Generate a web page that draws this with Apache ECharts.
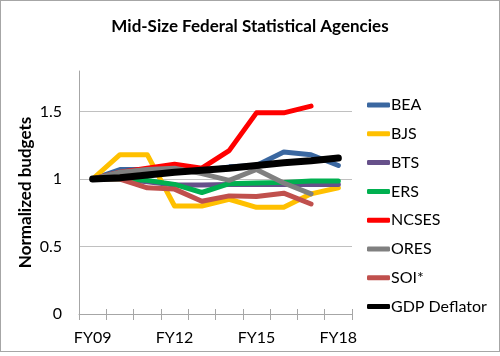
<!DOCTYPE html>
<html>
<head>
<meta charset="utf-8">
<script src="https://cdn.jsdelivr.net/npm/echarts@6/dist/echarts.min.js"></script>
<style>
html,body{margin:0;padding:0;background:#fff;}
#wrap{position:relative;width:500px;height:356px;}
#chart{width:500px;height:356px;}
#frame{position:absolute;left:0;top:0;width:500px;height:352px;box-sizing:border-box;border:1px solid #a6a6a6;pointer-events:none;}
</style>
</head>
<body>
<div id="wrap"><div id="chart"></div><div id="frame"></div></div>
<script>
const categories = ['FY09','FY10','FY11','FY12','FY13','FY14','FY15','FY16','FY17','FY18'];
const BEA   = [1.00, 1.07, 1.07, 1.06, 1.06, 1.09, 1.10, 1.20, 1.18, 1.10];
const BJS   = [1.00, 1.18, 1.18, 0.80, 0.80, 0.85, 0.79, 0.79, 0.89, 0.935];
const BTS   = [1.00, 1.00, 0.98, 0.955, 0.955, 0.96, 0.96, 0.96, 0.96, 0.96];
const ERS   = [1.00, 1.00, 0.99, 0.96, 0.90, 0.965, 0.97, 0.975, 0.985, 0.985];
const NCSES = [1.00, 1.05, 1.08, 1.11, 1.08, 1.21, 1.49, 1.49, 1.54];
const ORES  = [1.00, 1.05, 1.07, 1.08, 1.04, 0.99, 1.07, 0.97, 0.89];
const SOI   = [1.00, 1.00, 0.935, 0.925, 0.835, 0.875, 0.87, 0.895, 0.815];
const GDP   = [1.00, 1.01, 1.03, 1.05, 1.065, 1.08, 1.10, 1.12, 1.135, 1.155];
const yTicks = [0, 0.5, 1, 1.5];

const seriesDefs = [
  ['BEA', BEA, '#3a67a0', 5],
  ['BJS', BJS, '#ffc000', 5],
  ['BTS', BTS, '#66508a', 5],
  ['ERS', ERS, '#00b050', 5],
  ['NCSES', NCSES, '#ff0000', 5],
  ['ORES', ORES, '#808080', 5],
  ['SOI*', SOI, '#c0504d', 5],
  ['GDP Deflator', GDP, '#000000', 7]
];
const FONT = 'Lato';
const chart = echarts.init(document.getElementById('chart'), null, {renderer:'canvas'});
chart.setOption({
  animation:false,
  backgroundColor:'#ffffff',
  title:{text:'Mid-Size Federal Statistical Agencies', left:'center', top:13,
    textStyle:{fontFamily:FONT, fontWeight:'bold', fontSize:17, color:'#000'}},
  legend:{orient:'vertical', left:367, top:97, padding:0, itemWidth:23, itemHeight:5, itemGap:12.8,
    icon:'roundRect',
    data:seriesDefs.map(d=>d[0]),
    textStyle:{fontFamily:FONT, fontSize:16, color:'#000', padding:[0,0,0,-4]}},
  grid:{left:79, right:148, top:71, bottom:42, containLabel:false},
  xAxis:[{
    type:'category', data:categories, boundaryGap:true,
    axisLine:{lineStyle:{color:'#a6a6a6', width:1}},
    axisTick:{show:true, interval:0, length:6, lineStyle:{color:'#a6a6a6'}},
    axisLabel:{interval:2, fontFamily:FONT, fontSize:16, color:'#000', margin:16}
  },{
    type:'category', data:categories, boundaryGap:true, position:'bottom',
    axisLine:{show:false},
    axisTick:{show:true, inside:true, interval:0, length:5, lineStyle:{color:'#a6a6a6'}},
    axisLabel:{show:false}
  }],
  yAxis:{
    type:'value', min:0, max:1.8, interval:0.5,
    name:'Normalized budgets', nameLocation:'middle', nameGap:45, nameRotate:90,
    nameMoveOverlap:false,
    nameTextStyle:{fontFamily:FONT, fontWeight:'bold', fontSize:17, color:'#000'},
    axisLine:{show:true, lineStyle:{color:'#a6a6a6'}},
    axisTick:{show:false},
    axisLabel:{showMaxLabel:false, fontFamily:FONT, fontSize:16, color:'#000', margin:17,
      formatter:v=> yTicks.includes(v) ? String(v) : ''},
    splitLine:{show:true, lineStyle:{color:['#c0c0c0','#c0c0c0','#c0c0c0','#c0c0c0','rgba(0,0,0,0)']}}
  },
  series:seriesDefs.map(d=>({
    name:d[0], type:'line', data:d[1], showSymbol:false, symbol:'none',
    xAxisIndex:0,
    lineStyle:{color:d[2], width:d[3], cap:'round', join:'round'},
    itemStyle:{color:d[2]}
  }))
});
</script>
</body>
</html>
